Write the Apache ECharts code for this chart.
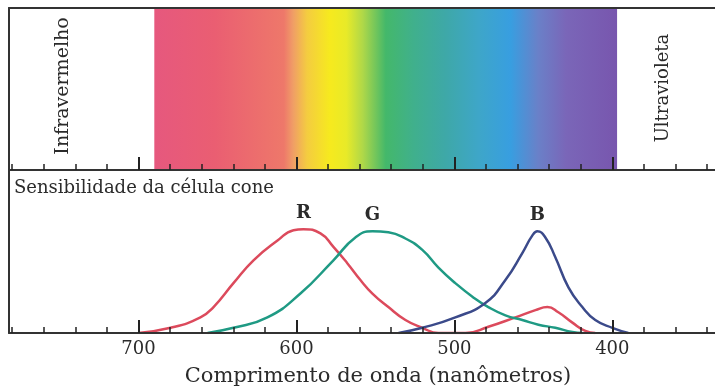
<!DOCTYPE html>
<html>
<head>
<meta charset="utf-8">
<script src="https://cdn.jsdelivr.net/npm/echarts@6/dist/echarts.min.js"></script>
<style>
html, body { margin: 0; padding: 0; background: #fff; }
#chart { width: 715px; height: 388px; }
</style>
</head>
<body>
<div id="chart"></div>
<script>
// wavelength range shown (nm), axis runs from long to short wavelengths
const waveMin = 335
const waveMax = 782
const spectrumRange = [690, 397]
const tickLabels = [700, 600, 500, 400]
const minorTicks = [780, 760, 740, 720, 680, 660, 640, 620, 580, 560, 540, 520, 480, 460, 440, 420, 380, 360, 340]

// cone sensitivity curves: [wavelength nm, relative sensitivity]
const redCone = [
    [700, 0], [679.7, 0.05], [660.8, 0.15], [652.5, 0.25], [639.9, 0.48], [627.2, 0.70],
    [612, 0.89], [601.9, 0.99], [595.6, 1.0], [584.8, 0.96], [576.6, 0.83], [567.7, 0.67],
    [559.5, 0.51], [551.9, 0.38], [541.8, 0.25], [531, 0.125], [520.3, 0.05], [510.1, 0],
    [493, 0], [478.5, 0.06], [461.4, 0.15], [448.7, 0.22], [441.1, 0.25], [434.2, 0.20],
    [425.3, 0.10], [417.1, 0.02], [410.8, 0]
]
const greenCone = [
    [656.3, 0], [639.9, 0.05], [618.4, 0.15], [597.5, 0.38], [576.6, 0.70], [562.7, 0.92],
    [551.9, 0.98], [541.8, 0.97], [531, 0.91], [520.3, 0.80], [510.1, 0.63], [499.4, 0.48],
    [488.6, 0.35], [478.5, 0.25], [467.7, 0.17], [457, 0.125], [446.8, 0.08], [436.1, 0.05],
    [425.3, 0.01], [419, 0]
]
const blueCone = [
    [535.4, 0], [520.3, 0.05], [499.4, 0.15], [480.4, 0.29], [467.7, 0.51], [457, 0.77],
    [450.6, 0.94], [447.5, 0.98], [442.4, 0.92], [436.1, 0.73], [427.8, 0.44], [419, 0.25],
    [410.8, 0.125], [400, 0.05], [389.9, 0]
]

const serif = '"DejaVu Serif", "Liberation Serif", serif'
const ink = '#2b2b2b'
const frame = { color: '#333', width: 2 }

// spectrum colours, left (red) to right (violet)
const spectrumStops = [
    [0, '#e6587e'], [0.13, '#ea5e72'], [0.28, '#ee786a'], [0.30, '#f09e66'],
    [0.33, '#f4cc40'], [0.38, '#f6ea1e'], [0.415, '#e8ea28'], [0.45, '#b0d848'],
    [0.50, '#44b86a'], [0.56, '#40b08c'], [0.63, '#3ea8a8'], [0.70, '#3ea6c8'],
    [0.77, '#389ee0'], [0.83, '#6a80c8'], [0.89, '#7a66b8'], [1, '#7856ae']
]

function waveAxis(grid, ticks, len, width, opts) {
    opts = opts || {}
    return {
        gridIndex: grid,
        type: 'value',
        min: waveMin,
        max: waveMax,
        inverse: true,
        position: opts.top ? 'top' : 'bottom',
        z: 5,
        axisLine: { show: !!opts.line, lineStyle: frame },
        axisTick: ticks ? {
            show: true,
            inside: true,
            length: len,
            customValues: ticks,
            lineStyle: { color: '#222', width: width }
        } : { show: false },
        axisLabel: opts.labels ? {
            show: true,
            customValues: tickLabels,
            margin: 7,
            color: ink,
            fontFamily: serif,
            fontSize: 18
        } : { show: false },
        splitLine: { show: false }
    }
}

function cone(name, data, color) {
    return {
        name: name,
        type: 'line',
        xAxisIndex: 3,
        yAxisIndex: 1,
        data: data,
        smooth: 0.5,
        showSymbol: false,
        lineStyle: { color: color, width: 2.5 },
        markPoint: {
            symbol: 'circle',
            symbolSize: 1,
            itemStyle: { color: 'rgba(0,0,0,0)' },
            data: [{ type: 'max', name: name }],
            label: {
                show: true,
                position: 'top',
                distance: 6,
                formatter: (p) => p.name,
                color: ink,
                fontFamily: serif,
                fontWeight: 'bold',
                fontSize: 18
            }
        }
    }
}

const option = {
    animation: false,
    backgroundColor: '#fff',
    grid: [
        { left: 9, right: 0, top: 8, height: 162 },
        { left: 9, right: 0, top: 171, height: 162 }
    ],
    xAxis: [
        waveAxis(0, tickLabels, 13, 2, { line: true }),
        waveAxis(0, minorTicks, 6, 1.5),
        waveAxis(0, null, 0, 0, { top: true, line: true }),
        waveAxis(1, tickLabels, 13, 2, { line: true, labels: true }),
        waveAxis(1, minorTicks, 6, 1.5)
    ],
    yAxis: [
        {
            gridIndex: 0, type: 'value', min: 0, max: 1,
            axisLine: { show: true, lineStyle: frame },
            axisTick: { show: false },
            axisLabel: { show: false },
            splitLine: { show: false }
        },
        {
            gridIndex: 1, type: 'value', min: 0, max: 1.56,
            axisLine: { show: true, lineStyle: frame },
            axisTick: { show: false },
            axisLabel: { show: false },
            splitLine: { show: false }
        }
    ],
    series: [
        {
            type: 'line',
            xAxisIndex: 0,
            yAxisIndex: 0,
            data: [],
            z: 1,
            markArea: {
                silent: true,
                itemStyle: {
                    color: {
                        type: 'linear', x: 0, y: 0, x2: 1, y2: 0,
                        colorStops: spectrumStops.map(s => ({ offset: s[0], color: s[1] }))
                    }
                },
                data: [[{ xAxis: spectrumRange[0], yAxis: 0 }, { xAxis: spectrumRange[1], yAxis: 1 }]]
            }
        },
        cone('R', redCone, '#dc4a5c'),
        cone('G', greenCone, '#1f9a84'),
        cone('B', blueCone, '#3b4a8a')
    ],
    graphic: [
        { type: 'text', x: 63, y: 86, rotation: Math.PI / 2, style: { text: 'Infravermelho', font: '19px ' + serif, fill: ink, textAlign: 'center', textVerticalAlign: 'middle' } },
        { type: 'text', x: 663, y: 88, rotation: Math.PI / 2, style: { text: 'Ultravioleta', font: '18px ' + serif, fill: ink, textAlign: 'center', textVerticalAlign: 'middle' } },
        { type: 'text', x: 14, y: 188, style: { text: 'Sensibilidade da célula cone', font: '18px ' + serif, fill: ink, textAlign: 'left', textVerticalAlign: 'middle' } },
        { type: 'text', x: 378, y: 377, style: { text: 'Comprimento de onda (nanômetros)', font: '21px ' + serif, fill: ink, textAlign: 'center', textVerticalAlign: 'middle' } }
    ]
}

try {
    const chart = echarts.init(document.getElementById('chart'))
    chart.setOption(option, true)
} catch (e) {}
</script>
</body>
</html>
